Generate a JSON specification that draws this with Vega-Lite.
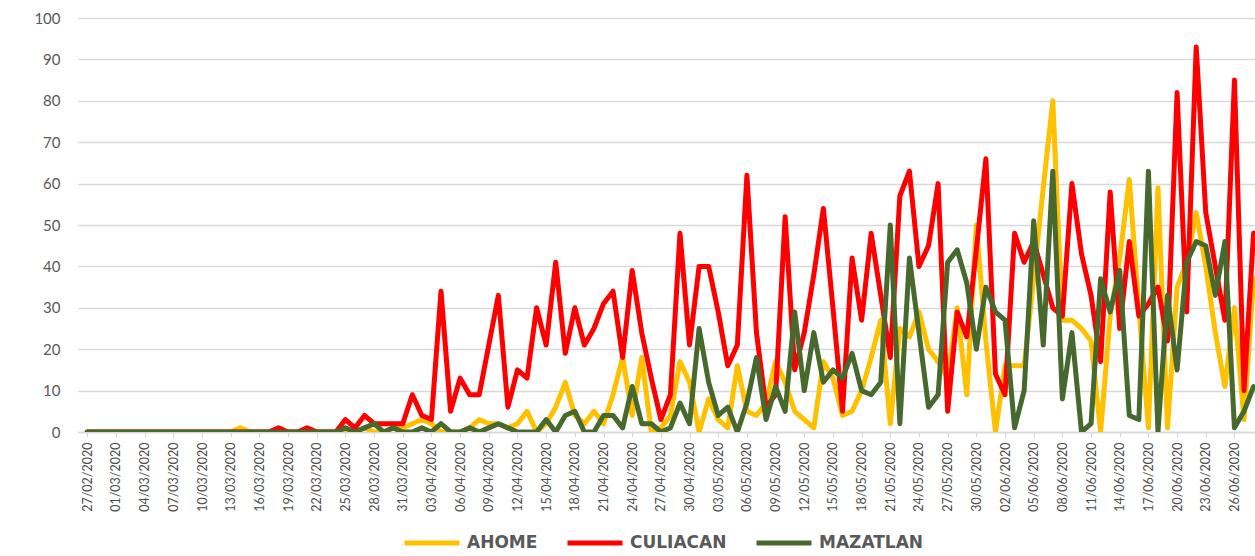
{
  "$schema": "https://vega.github.io/schema/vega-lite/v6.json",
  "width": 1177,
  "height": 414,
  "autosize": {"type": "none"},
  "padding": {"left": 78, "top": 18, "right": 0, "bottom": 124},
  "background": "white",
  "config": {"view": {"stroke": null}},
  "data": {"values": [
{"fecha":"2020-02-27","municipio":"AHOME","casos":0},{"fecha":"2020-02-28","municipio":"AHOME","casos":0},{"fecha":"2020-02-29","municipio":"AHOME","casos":0},{"fecha":"2020-03-01","municipio":"AHOME","casos":0},{"fecha":"2020-03-02","municipio":"AHOME","casos":0},{"fecha":"2020-03-03","municipio":"AHOME","casos":0},{"fecha":"2020-03-04","municipio":"AHOME","casos":0},{"fecha":"2020-03-05","municipio":"AHOME","casos":0},{"fecha":"2020-03-06","municipio":"AHOME","casos":0},{"fecha":"2020-03-07","municipio":"AHOME","casos":0},
{"fecha":"2020-03-08","municipio":"AHOME","casos":0},{"fecha":"2020-03-09","municipio":"AHOME","casos":0},{"fecha":"2020-03-10","municipio":"AHOME","casos":0},{"fecha":"2020-03-11","municipio":"AHOME","casos":0},{"fecha":"2020-03-12","municipio":"AHOME","casos":0},{"fecha":"2020-03-13","municipio":"AHOME","casos":0},{"fecha":"2020-03-14","municipio":"AHOME","casos":1},{"fecha":"2020-03-15","municipio":"AHOME","casos":0},{"fecha":"2020-03-16","municipio":"AHOME","casos":0},{"fecha":"2020-03-17","municipio":"AHOME","casos":0},
{"fecha":"2020-03-18","municipio":"AHOME","casos":0},{"fecha":"2020-03-19","municipio":"AHOME","casos":0},{"fecha":"2020-03-20","municipio":"AHOME","casos":0},{"fecha":"2020-03-21","municipio":"AHOME","casos":0},{"fecha":"2020-03-22","municipio":"AHOME","casos":0},{"fecha":"2020-03-23","municipio":"AHOME","casos":0},{"fecha":"2020-03-24","municipio":"AHOME","casos":0},{"fecha":"2020-03-25","municipio":"AHOME","casos":0},{"fecha":"2020-03-26","municipio":"AHOME","casos":0},{"fecha":"2020-03-27","municipio":"AHOME","casos":1},
{"fecha":"2020-03-28","municipio":"AHOME","casos":0},{"fecha":"2020-03-29","municipio":"AHOME","casos":0},{"fecha":"2020-03-30","municipio":"AHOME","casos":1},{"fecha":"2020-03-31","municipio":"AHOME","casos":1},{"fecha":"2020-04-01","municipio":"AHOME","casos":2},{"fecha":"2020-04-02","municipio":"AHOME","casos":3},{"fecha":"2020-04-03","municipio":"AHOME","casos":2},{"fecha":"2020-04-04","municipio":"AHOME","casos":0},{"fecha":"2020-04-05","municipio":"AHOME","casos":0},{"fecha":"2020-04-06","municipio":"AHOME","casos":0},
{"fecha":"2020-04-07","municipio":"AHOME","casos":1},{"fecha":"2020-04-08","municipio":"AHOME","casos":3},{"fecha":"2020-04-09","municipio":"AHOME","casos":2},{"fecha":"2020-04-10","municipio":"AHOME","casos":2},{"fecha":"2020-04-11","municipio":"AHOME","casos":1},{"fecha":"2020-04-12","municipio":"AHOME","casos":2},{"fecha":"2020-04-13","municipio":"AHOME","casos":5},{"fecha":"2020-04-14","municipio":"AHOME","casos":0},{"fecha":"2020-04-15","municipio":"AHOME","casos":2},{"fecha":"2020-04-16","municipio":"AHOME","casos":6},
{"fecha":"2020-04-17","municipio":"AHOME","casos":12},{"fecha":"2020-04-18","municipio":"AHOME","casos":4},{"fecha":"2020-04-19","municipio":"AHOME","casos":2},{"fecha":"2020-04-20","municipio":"AHOME","casos":5},{"fecha":"2020-04-21","municipio":"AHOME","casos":2},{"fecha":"2020-04-22","municipio":"AHOME","casos":9},{"fecha":"2020-04-23","municipio":"AHOME","casos":18},{"fecha":"2020-04-24","municipio":"AHOME","casos":4},{"fecha":"2020-04-25","municipio":"AHOME","casos":18},{"fecha":"2020-04-26","municipio":"AHOME","casos":0},
{"fecha":"2020-04-27","municipio":"AHOME","casos":1},{"fecha":"2020-04-28","municipio":"AHOME","casos":4},{"fecha":"2020-04-29","municipio":"AHOME","casos":17},{"fecha":"2020-04-30","municipio":"AHOME","casos":12},{"fecha":"2020-05-01","municipio":"AHOME","casos":0},{"fecha":"2020-05-02","municipio":"AHOME","casos":8},{"fecha":"2020-05-03","municipio":"AHOME","casos":3},{"fecha":"2020-05-04","municipio":"AHOME","casos":1},{"fecha":"2020-05-05","municipio":"AHOME","casos":16},{"fecha":"2020-05-06","municipio":"AHOME","casos":5},
{"fecha":"2020-05-07","municipio":"AHOME","casos":4},{"fecha":"2020-05-08","municipio":"AHOME","casos":7},{"fecha":"2020-05-09","municipio":"AHOME","casos":17},{"fecha":"2020-05-10","municipio":"AHOME","casos":12},{"fecha":"2020-05-11","municipio":"AHOME","casos":5},{"fecha":"2020-05-12","municipio":"AHOME","casos":3},{"fecha":"2020-05-13","municipio":"AHOME","casos":1},{"fecha":"2020-05-14","municipio":"AHOME","casos":17},{"fecha":"2020-05-15","municipio":"AHOME","casos":13},{"fecha":"2020-05-16","municipio":"AHOME","casos":4},
{"fecha":"2020-05-17","municipio":"AHOME","casos":5},{"fecha":"2020-05-18","municipio":"AHOME","casos":10},{"fecha":"2020-05-19","municipio":"AHOME","casos":18},{"fecha":"2020-05-20","municipio":"AHOME","casos":27},{"fecha":"2020-05-21","municipio":"AHOME","casos":2},{"fecha":"2020-05-22","municipio":"AHOME","casos":25},{"fecha":"2020-05-23","municipio":"AHOME","casos":23},{"fecha":"2020-05-24","municipio":"AHOME","casos":29},{"fecha":"2020-05-25","municipio":"AHOME","casos":20},{"fecha":"2020-05-26","municipio":"AHOME","casos":17},
{"fecha":"2020-05-27","municipio":"AHOME","casos":13},{"fecha":"2020-05-28","municipio":"AHOME","casos":30},{"fecha":"2020-05-29","municipio":"AHOME","casos":9},{"fecha":"2020-05-30","municipio":"AHOME","casos":50},{"fecha":"2020-05-31","municipio":"AHOME","casos":22},{"fecha":"2020-06-01","municipio":"AHOME","casos":0},{"fecha":"2020-06-02","municipio":"AHOME","casos":16},{"fecha":"2020-06-03","municipio":"AHOME","casos":16},{"fecha":"2020-06-04","municipio":"AHOME","casos":16},{"fecha":"2020-06-05","municipio":"AHOME","casos":37},
{"fecha":"2020-06-06","municipio":"AHOME","casos":59},{"fecha":"2020-06-07","municipio":"AHOME","casos":80},{"fecha":"2020-06-08","municipio":"AHOME","casos":27},{"fecha":"2020-06-09","municipio":"AHOME","casos":27},{"fecha":"2020-06-10","municipio":"AHOME","casos":25},{"fecha":"2020-06-11","municipio":"AHOME","casos":22},{"fecha":"2020-06-12","municipio":"AHOME","casos":0},{"fecha":"2020-06-13","municipio":"AHOME","casos":28},{"fecha":"2020-06-14","municipio":"AHOME","casos":42},{"fecha":"2020-06-15","municipio":"AHOME","casos":61},
{"fecha":"2020-06-16","municipio":"AHOME","casos":30},{"fecha":"2020-06-17","municipio":"AHOME","casos":1},{"fecha":"2020-06-18","municipio":"AHOME","casos":59},{"fecha":"2020-06-19","municipio":"AHOME","casos":1},{"fecha":"2020-06-20","municipio":"AHOME","casos":35},{"fecha":"2020-06-21","municipio":"AHOME","casos":41},{"fecha":"2020-06-22","municipio":"AHOME","casos":53},{"fecha":"2020-06-23","municipio":"AHOME","casos":40},{"fecha":"2020-06-24","municipio":"AHOME","casos":24},{"fecha":"2020-06-25","municipio":"AHOME","casos":11},
{"fecha":"2020-06-26","municipio":"AHOME","casos":30},{"fecha":"2020-06-27","municipio":"AHOME","casos":3},{"fecha":"2020-06-28","municipio":"AHOME","casos":37},
{"fecha":"2020-02-27","municipio":"CULIACAN","casos":0},{"fecha":"2020-02-28","municipio":"CULIACAN","casos":0},{"fecha":"2020-02-29","municipio":"CULIACAN","casos":0},{"fecha":"2020-03-01","municipio":"CULIACAN","casos":0},{"fecha":"2020-03-02","municipio":"CULIACAN","casos":0},{"fecha":"2020-03-03","municipio":"CULIACAN","casos":0},{"fecha":"2020-03-04","municipio":"CULIACAN","casos":0},{"fecha":"2020-03-05","municipio":"CULIACAN","casos":0},{"fecha":"2020-03-06","municipio":"CULIACAN","casos":0},{"fecha":"2020-03-07","municipio":"CULIACAN","casos":0},
{"fecha":"2020-03-08","municipio":"CULIACAN","casos":0},{"fecha":"2020-03-09","municipio":"CULIACAN","casos":0},{"fecha":"2020-03-10","municipio":"CULIACAN","casos":0},{"fecha":"2020-03-11","municipio":"CULIACAN","casos":0},{"fecha":"2020-03-12","municipio":"CULIACAN","casos":0},{"fecha":"2020-03-13","municipio":"CULIACAN","casos":0},{"fecha":"2020-03-14","municipio":"CULIACAN","casos":0},{"fecha":"2020-03-15","municipio":"CULIACAN","casos":0},{"fecha":"2020-03-16","municipio":"CULIACAN","casos":0},{"fecha":"2020-03-17","municipio":"CULIACAN","casos":0},
{"fecha":"2020-03-18","municipio":"CULIACAN","casos":1},{"fecha":"2020-03-19","municipio":"CULIACAN","casos":0},{"fecha":"2020-03-20","municipio":"CULIACAN","casos":0},{"fecha":"2020-03-21","municipio":"CULIACAN","casos":1},{"fecha":"2020-03-22","municipio":"CULIACAN","casos":0},{"fecha":"2020-03-23","municipio":"CULIACAN","casos":0},{"fecha":"2020-03-24","municipio":"CULIACAN","casos":0},{"fecha":"2020-03-25","municipio":"CULIACAN","casos":3},{"fecha":"2020-03-26","municipio":"CULIACAN","casos":1},{"fecha":"2020-03-27","municipio":"CULIACAN","casos":4},
{"fecha":"2020-03-28","municipio":"CULIACAN","casos":2},{"fecha":"2020-03-29","municipio":"CULIACAN","casos":2},{"fecha":"2020-03-30","municipio":"CULIACAN","casos":2},{"fecha":"2020-03-31","municipio":"CULIACAN","casos":2},{"fecha":"2020-04-01","municipio":"CULIACAN","casos":9},{"fecha":"2020-04-02","municipio":"CULIACAN","casos":4},{"fecha":"2020-04-03","municipio":"CULIACAN","casos":3},{"fecha":"2020-04-04","municipio":"CULIACAN","casos":34},{"fecha":"2020-04-05","municipio":"CULIACAN","casos":5},{"fecha":"2020-04-06","municipio":"CULIACAN","casos":13},
{"fecha":"2020-04-07","municipio":"CULIACAN","casos":9},{"fecha":"2020-04-08","municipio":"CULIACAN","casos":9},{"fecha":"2020-04-09","municipio":"CULIACAN","casos":21},{"fecha":"2020-04-10","municipio":"CULIACAN","casos":33},{"fecha":"2020-04-11","municipio":"CULIACAN","casos":6},{"fecha":"2020-04-12","municipio":"CULIACAN","casos":15},{"fecha":"2020-04-13","municipio":"CULIACAN","casos":13},{"fecha":"2020-04-14","municipio":"CULIACAN","casos":30},{"fecha":"2020-04-15","municipio":"CULIACAN","casos":21},{"fecha":"2020-04-16","municipio":"CULIACAN","casos":41},
{"fecha":"2020-04-17","municipio":"CULIACAN","casos":19},{"fecha":"2020-04-18","municipio":"CULIACAN","casos":30},{"fecha":"2020-04-19","municipio":"CULIACAN","casos":21},{"fecha":"2020-04-20","municipio":"CULIACAN","casos":25},{"fecha":"2020-04-21","municipio":"CULIACAN","casos":31},{"fecha":"2020-04-22","municipio":"CULIACAN","casos":34},{"fecha":"2020-04-23","municipio":"CULIACAN","casos":18},{"fecha":"2020-04-24","municipio":"CULIACAN","casos":39},{"fecha":"2020-04-25","municipio":"CULIACAN","casos":24},{"fecha":"2020-04-26","municipio":"CULIACAN","casos":13},
{"fecha":"2020-04-27","municipio":"CULIACAN","casos":3},{"fecha":"2020-04-28","municipio":"CULIACAN","casos":9},{"fecha":"2020-04-29","municipio":"CULIACAN","casos":48},{"fecha":"2020-04-30","municipio":"CULIACAN","casos":21},{"fecha":"2020-05-01","municipio":"CULIACAN","casos":40},{"fecha":"2020-05-02","municipio":"CULIACAN","casos":40},{"fecha":"2020-05-03","municipio":"CULIACAN","casos":29},{"fecha":"2020-05-04","municipio":"CULIACAN","casos":16},{"fecha":"2020-05-05","municipio":"CULIACAN","casos":21},{"fecha":"2020-05-06","municipio":"CULIACAN","casos":62},
{"fecha":"2020-05-07","municipio":"CULIACAN","casos":24},{"fecha":"2020-05-08","municipio":"CULIACAN","casos":6},{"fecha":"2020-05-09","municipio":"CULIACAN","casos":9},{"fecha":"2020-05-10","municipio":"CULIACAN","casos":52},{"fecha":"2020-05-11","municipio":"CULIACAN","casos":15},{"fecha":"2020-05-12","municipio":"CULIACAN","casos":24},{"fecha":"2020-05-13","municipio":"CULIACAN","casos":38},{"fecha":"2020-05-14","municipio":"CULIACAN","casos":54},{"fecha":"2020-05-15","municipio":"CULIACAN","casos":30},{"fecha":"2020-05-16","municipio":"CULIACAN","casos":5},
{"fecha":"2020-05-17","municipio":"CULIACAN","casos":42},{"fecha":"2020-05-18","municipio":"CULIACAN","casos":27},{"fecha":"2020-05-19","municipio":"CULIACAN","casos":48},{"fecha":"2020-05-20","municipio":"CULIACAN","casos":33},{"fecha":"2020-05-21","municipio":"CULIACAN","casos":18},{"fecha":"2020-05-22","municipio":"CULIACAN","casos":57},{"fecha":"2020-05-23","municipio":"CULIACAN","casos":63},{"fecha":"2020-05-24","municipio":"CULIACAN","casos":40},{"fecha":"2020-05-25","municipio":"CULIACAN","casos":45},{"fecha":"2020-05-26","municipio":"CULIACAN","casos":60},
{"fecha":"2020-05-27","municipio":"CULIACAN","casos":5},{"fecha":"2020-05-28","municipio":"CULIACAN","casos":29},{"fecha":"2020-05-29","municipio":"CULIACAN","casos":23},{"fecha":"2020-05-30","municipio":"CULIACAN","casos":44},{"fecha":"2020-05-31","municipio":"CULIACAN","casos":66},{"fecha":"2020-06-01","municipio":"CULIACAN","casos":14},{"fecha":"2020-06-02","municipio":"CULIACAN","casos":9},{"fecha":"2020-06-03","municipio":"CULIACAN","casos":48},{"fecha":"2020-06-04","municipio":"CULIACAN","casos":41},{"fecha":"2020-06-05","municipio":"CULIACAN","casos":46},
{"fecha":"2020-06-06","municipio":"CULIACAN","casos":38},{"fecha":"2020-06-07","municipio":"CULIACAN","casos":30},{"fecha":"2020-06-08","municipio":"CULIACAN","casos":28},{"fecha":"2020-06-09","municipio":"CULIACAN","casos":60},{"fecha":"2020-06-10","municipio":"CULIACAN","casos":43},{"fecha":"2020-06-11","municipio":"CULIACAN","casos":33},{"fecha":"2020-06-12","municipio":"CULIACAN","casos":17},{"fecha":"2020-06-13","municipio":"CULIACAN","casos":58},{"fecha":"2020-06-14","municipio":"CULIACAN","casos":25},{"fecha":"2020-06-15","municipio":"CULIACAN","casos":46},
{"fecha":"2020-06-16","municipio":"CULIACAN","casos":28},{"fecha":"2020-06-17","municipio":"CULIACAN","casos":31},{"fecha":"2020-06-18","municipio":"CULIACAN","casos":35},{"fecha":"2020-06-19","municipio":"CULIACAN","casos":22},{"fecha":"2020-06-20","municipio":"CULIACAN","casos":82},{"fecha":"2020-06-21","municipio":"CULIACAN","casos":29},{"fecha":"2020-06-22","municipio":"CULIACAN","casos":93},{"fecha":"2020-06-23","municipio":"CULIACAN","casos":53},{"fecha":"2020-06-24","municipio":"CULIACAN","casos":40},{"fecha":"2020-06-25","municipio":"CULIACAN","casos":27},
{"fecha":"2020-06-26","municipio":"CULIACAN","casos":85},{"fecha":"2020-06-27","municipio":"CULIACAN","casos":10},{"fecha":"2020-06-28","municipio":"CULIACAN","casos":48},
{"fecha":"2020-02-27","municipio":"MAZATLAN","casos":0},{"fecha":"2020-02-28","municipio":"MAZATLAN","casos":0},{"fecha":"2020-02-29","municipio":"MAZATLAN","casos":0},{"fecha":"2020-03-01","municipio":"MAZATLAN","casos":0},{"fecha":"2020-03-02","municipio":"MAZATLAN","casos":0},{"fecha":"2020-03-03","municipio":"MAZATLAN","casos":0},{"fecha":"2020-03-04","municipio":"MAZATLAN","casos":0},{"fecha":"2020-03-05","municipio":"MAZATLAN","casos":0},{"fecha":"2020-03-06","municipio":"MAZATLAN","casos":0},{"fecha":"2020-03-07","municipio":"MAZATLAN","casos":0},
{"fecha":"2020-03-08","municipio":"MAZATLAN","casos":0},{"fecha":"2020-03-09","municipio":"MAZATLAN","casos":0},{"fecha":"2020-03-10","municipio":"MAZATLAN","casos":0},{"fecha":"2020-03-11","municipio":"MAZATLAN","casos":0},{"fecha":"2020-03-12","municipio":"MAZATLAN","casos":0},{"fecha":"2020-03-13","municipio":"MAZATLAN","casos":0},{"fecha":"2020-03-14","municipio":"MAZATLAN","casos":0},{"fecha":"2020-03-15","municipio":"MAZATLAN","casos":0},{"fecha":"2020-03-16","municipio":"MAZATLAN","casos":0},{"fecha":"2020-03-17","municipio":"MAZATLAN","casos":0},
{"fecha":"2020-03-18","municipio":"MAZATLAN","casos":0},{"fecha":"2020-03-19","municipio":"MAZATLAN","casos":0},{"fecha":"2020-03-20","municipio":"MAZATLAN","casos":0},{"fecha":"2020-03-21","municipio":"MAZATLAN","casos":0},{"fecha":"2020-03-22","municipio":"MAZATLAN","casos":0},{"fecha":"2020-03-23","municipio":"MAZATLAN","casos":0},{"fecha":"2020-03-24","municipio":"MAZATLAN","casos":0},{"fecha":"2020-03-25","municipio":"MAZATLAN","casos":1},{"fecha":"2020-03-26","municipio":"MAZATLAN","casos":0},{"fecha":"2020-03-27","municipio":"MAZATLAN","casos":1},
{"fecha":"2020-03-28","municipio":"MAZATLAN","casos":2},{"fecha":"2020-03-29","municipio":"MAZATLAN","casos":0},{"fecha":"2020-03-30","municipio":"MAZATLAN","casos":1},{"fecha":"2020-03-31","municipio":"MAZATLAN","casos":0},{"fecha":"2020-04-01","municipio":"MAZATLAN","casos":0},{"fecha":"2020-04-02","municipio":"MAZATLAN","casos":1},{"fecha":"2020-04-03","municipio":"MAZATLAN","casos":0},{"fecha":"2020-04-04","municipio":"MAZATLAN","casos":2},{"fecha":"2020-04-05","municipio":"MAZATLAN","casos":0},{"fecha":"2020-04-06","municipio":"MAZATLAN","casos":0},
{"fecha":"2020-04-07","municipio":"MAZATLAN","casos":1},{"fecha":"2020-04-08","municipio":"MAZATLAN","casos":0},{"fecha":"2020-04-09","municipio":"MAZATLAN","casos":1},{"fecha":"2020-04-10","municipio":"MAZATLAN","casos":2},{"fecha":"2020-04-11","municipio":"MAZATLAN","casos":1},{"fecha":"2020-04-12","municipio":"MAZATLAN","casos":0},{"fecha":"2020-04-13","municipio":"MAZATLAN","casos":0},{"fecha":"2020-04-14","municipio":"MAZATLAN","casos":0},{"fecha":"2020-04-15","municipio":"MAZATLAN","casos":3},{"fecha":"2020-04-16","municipio":"MAZATLAN","casos":0},
{"fecha":"2020-04-17","municipio":"MAZATLAN","casos":4},{"fecha":"2020-04-18","municipio":"MAZATLAN","casos":5},{"fecha":"2020-04-19","municipio":"MAZATLAN","casos":0},{"fecha":"2020-04-20","municipio":"MAZATLAN","casos":0},{"fecha":"2020-04-21","municipio":"MAZATLAN","casos":4},{"fecha":"2020-04-22","municipio":"MAZATLAN","casos":4},{"fecha":"2020-04-23","municipio":"MAZATLAN","casos":1},{"fecha":"2020-04-24","municipio":"MAZATLAN","casos":11},{"fecha":"2020-04-25","municipio":"MAZATLAN","casos":2},{"fecha":"2020-04-26","municipio":"MAZATLAN","casos":2},
{"fecha":"2020-04-27","municipio":"MAZATLAN","casos":0},{"fecha":"2020-04-28","municipio":"MAZATLAN","casos":1},{"fecha":"2020-04-29","municipio":"MAZATLAN","casos":7},{"fecha":"2020-04-30","municipio":"MAZATLAN","casos":2},{"fecha":"2020-05-01","municipio":"MAZATLAN","casos":25},{"fecha":"2020-05-02","municipio":"MAZATLAN","casos":12},{"fecha":"2020-05-03","municipio":"MAZATLAN","casos":4},{"fecha":"2020-05-04","municipio":"MAZATLAN","casos":6},{"fecha":"2020-05-05","municipio":"MAZATLAN","casos":0},{"fecha":"2020-05-06","municipio":"MAZATLAN","casos":7},
{"fecha":"2020-05-07","municipio":"MAZATLAN","casos":18},{"fecha":"2020-05-08","municipio":"MAZATLAN","casos":3},{"fecha":"2020-05-09","municipio":"MAZATLAN","casos":11},{"fecha":"2020-05-10","municipio":"MAZATLAN","casos":5},{"fecha":"2020-05-11","municipio":"MAZATLAN","casos":29},{"fecha":"2020-05-12","municipio":"MAZATLAN","casos":10},{"fecha":"2020-05-13","municipio":"MAZATLAN","casos":24},{"fecha":"2020-05-14","municipio":"MAZATLAN","casos":12},{"fecha":"2020-05-15","municipio":"MAZATLAN","casos":15},{"fecha":"2020-05-16","municipio":"MAZATLAN","casos":13},
{"fecha":"2020-05-17","municipio":"MAZATLAN","casos":19},{"fecha":"2020-05-18","municipio":"MAZATLAN","casos":10},{"fecha":"2020-05-19","municipio":"MAZATLAN","casos":9},{"fecha":"2020-05-20","municipio":"MAZATLAN","casos":12},{"fecha":"2020-05-21","municipio":"MAZATLAN","casos":50},{"fecha":"2020-05-22","municipio":"MAZATLAN","casos":2},{"fecha":"2020-05-23","municipio":"MAZATLAN","casos":42},{"fecha":"2020-05-24","municipio":"MAZATLAN","casos":24},{"fecha":"2020-05-25","municipio":"MAZATLAN","casos":6},{"fecha":"2020-05-26","municipio":"MAZATLAN","casos":9},
{"fecha":"2020-05-27","municipio":"MAZATLAN","casos":41},{"fecha":"2020-05-28","municipio":"MAZATLAN","casos":44},{"fecha":"2020-05-29","municipio":"MAZATLAN","casos":36},{"fecha":"2020-05-30","municipio":"MAZATLAN","casos":20},{"fecha":"2020-05-31","municipio":"MAZATLAN","casos":35},{"fecha":"2020-06-01","municipio":"MAZATLAN","casos":29},{"fecha":"2020-06-02","municipio":"MAZATLAN","casos":27},{"fecha":"2020-06-03","municipio":"MAZATLAN","casos":1},{"fecha":"2020-06-04","municipio":"MAZATLAN","casos":10},{"fecha":"2020-06-05","municipio":"MAZATLAN","casos":51},
{"fecha":"2020-06-06","municipio":"MAZATLAN","casos":21},{"fecha":"2020-06-07","municipio":"MAZATLAN","casos":63},{"fecha":"2020-06-08","municipio":"MAZATLAN","casos":8},{"fecha":"2020-06-09","municipio":"MAZATLAN","casos":24},{"fecha":"2020-06-10","municipio":"MAZATLAN","casos":0},{"fecha":"2020-06-11","municipio":"MAZATLAN","casos":2},{"fecha":"2020-06-12","municipio":"MAZATLAN","casos":37},{"fecha":"2020-06-13","municipio":"MAZATLAN","casos":29},{"fecha":"2020-06-14","municipio":"MAZATLAN","casos":39},{"fecha":"2020-06-15","municipio":"MAZATLAN","casos":4},
{"fecha":"2020-06-16","municipio":"MAZATLAN","casos":3},{"fecha":"2020-06-17","municipio":"MAZATLAN","casos":63},{"fecha":"2020-06-18","municipio":"MAZATLAN","casos":0},{"fecha":"2020-06-19","municipio":"MAZATLAN","casos":33},{"fecha":"2020-06-20","municipio":"MAZATLAN","casos":15},{"fecha":"2020-06-21","municipio":"MAZATLAN","casos":41},{"fecha":"2020-06-22","municipio":"MAZATLAN","casos":46},{"fecha":"2020-06-23","municipio":"MAZATLAN","casos":45},{"fecha":"2020-06-24","municipio":"MAZATLAN","casos":33},{"fecha":"2020-06-25","municipio":"MAZATLAN","casos":46},
{"fecha":"2020-06-26","municipio":"MAZATLAN","casos":1},{"fecha":"2020-06-27","municipio":"MAZATLAN","casos":5},{"fecha":"2020-06-28","municipio":"MAZATLAN","casos":11}
  ]},
  "mark": {"type": "line", "strokeWidth": 5, "strokeJoin": "round", "strokeCap": "round", "clip": true},
  "encoding": {
    "x": {
      "field": "fecha", "type": "temporal",
      "scale": {"type": "utc", "nice": false, "domain": [
        {"year": 2020, "month": 2, "date": 26, "hours": 0, "minutes": 40, "utc": true},
        {"year": 2020, "month": 6, "date": 28, "hours": 3, "minutes": 36, "utc": true}]},
      "axis": {
        "title": null, "grid": false,
        "labelExpr": "utcFormat(datum.value, '%d/%m/%Y')",
        "values": [
          {"year":2020,"month":2,"date":27,"utc":true},{"year":2020,"month":3,"date":1,"utc":true},{"year":2020,"month":3,"date":4,"utc":true},{"year":2020,"month":3,"date":7,"utc":true},{"year":2020,"month":3,"date":10,"utc":true},{"year":2020,"month":3,"date":13,"utc":true},{"year":2020,"month":3,"date":16,"utc":true},{"year":2020,"month":3,"date":19,"utc":true},{"year":2020,"month":3,"date":22,"utc":true},{"year":2020,"month":3,"date":25,"utc":true},{"year":2020,"month":3,"date":28,"utc":true},{"year":2020,"month":3,"date":31,"utc":true},
          {"year":2020,"month":4,"date":3,"utc":true},{"year":2020,"month":4,"date":6,"utc":true},{"year":2020,"month":4,"date":9,"utc":true},{"year":2020,"month":4,"date":12,"utc":true},{"year":2020,"month":4,"date":15,"utc":true},{"year":2020,"month":4,"date":18,"utc":true},{"year":2020,"month":4,"date":21,"utc":true},{"year":2020,"month":4,"date":24,"utc":true},{"year":2020,"month":4,"date":27,"utc":true},{"year":2020,"month":4,"date":30,"utc":true},
          {"year":2020,"month":5,"date":3,"utc":true},{"year":2020,"month":5,"date":6,"utc":true},{"year":2020,"month":5,"date":9,"utc":true},{"year":2020,"month":5,"date":12,"utc":true},{"year":2020,"month":5,"date":15,"utc":true},{"year":2020,"month":5,"date":18,"utc":true},{"year":2020,"month":5,"date":21,"utc":true},{"year":2020,"month":5,"date":24,"utc":true},{"year":2020,"month":5,"date":27,"utc":true},{"year":2020,"month":5,"date":30,"utc":true},
          {"year":2020,"month":6,"date":2,"utc":true},{"year":2020,"month":6,"date":5,"utc":true},{"year":2020,"month":6,"date":8,"utc":true},{"year":2020,"month":6,"date":11,"utc":true},{"year":2020,"month":6,"date":14,"utc":true},{"year":2020,"month":6,"date":17,"utc":true},{"year":2020,"month":6,"date":20,"utc":true},{"year":2020,"month":6,"date":23,"utc":true},{"year":2020,"month":6,"date":26,"utc":true}],
        "labelAngle": 270, "labelFont": "Lato", "labelFontSize": 12.5, "labelColor": "#4d4d4d",
        "labelPadding": 5, "labelOverlap": false, "labelFlush": false, "labelBound": false,
        "domainColor": "#d9d9d9", "domainWidth": 1.3, "tickColor": "#d9d9d9", "tickSize": 5, "tickWidth": 1.3
      }
    },
    "y": {
      "field": "casos", "type": "quantitative",
      "scale": {"domain": [0, 100], "nice": false},
      "axis": {
        "title": null, "values": [0,10,20,30,40,50,60,70,80,90,100],
        "grid": true, "gridColor": "#d9d9d9", "gridWidth": 1.3,
        "domain": false, "ticks": false, "tickSize": 0,
        "labelFont": "Lato", "labelFontSize": 15, "labelColor": "#595959", "labelPadding": 18
      }
    },
    "color": {
      "field": "municipio", "type": "nominal",
      "scale": {"domain": ["AHOME", "CULIACAN", "MAZATLAN"], "range": ["#FFC000", "#FF0000", "#48692E"]},
      "legend": {
        "title": null, "orient": "none", "direction": "horizontal",
        "legendX": 324, "legendY": 495,
        "symbolType": "stroke", "symbolSize": 3025, "symbolStrokeWidth": 5,
        "labelFont": "DejaVu Sans", "labelFontSize": 17, "labelFontWeight": "bold", "labelColor": "#595959",
        "labelOffset": 5, "columnPadding": 19
      }
    }
  }
}
